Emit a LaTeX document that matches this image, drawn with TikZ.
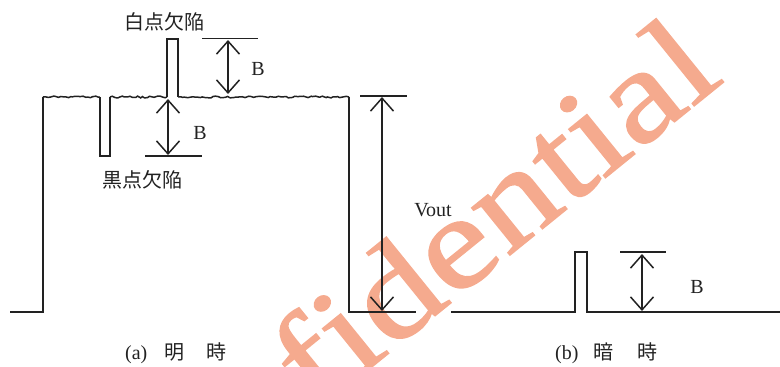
\documentclass[tikz,border=0pt]{standalone}
\usepackage{fontspec}
\setmainfont{Liberation Serif}
\newfontfamily\jpfont{Noto Sans CJK JP}
\newfontfamily\markfont[FakeStretch=1.2,FakeBold=1.2]{Liberation Serif}
\usetikzlibrary{arrows.meta,decorations.pathmorphing}
\definecolor{lineDark}{HTML}{222222}
\definecolor{markOrange}{RGB}{245,170,142}

\tikzset{
  wave/.style={line width=1.5pt, lineDark},
  noisy/.style={wave, decorate,
    decoration={random steps, segment length=2.5pt, amplitude=0.9pt}},
  limit/.style={line width=1.5pt, lineDark},
  dimarrow/.style={line width=1.5pt, lineDark,
    {Straight Barb[length=13pt,width=23pt]}-{Straight Barb[length=13pt,width=23pt]}},
  lbl/.style={font=\fontsize{20}{22}\selectfont, inner sep=0pt, text=lineDark},
  jplbl/.style={font=\jpfont\fontsize{20}{22}\selectfont, inner sep=0pt, text=lineDark},
  caption/.style={jplbl, anchor=west},
  wmark/.style={font=\markfont\fontsize{132}{132}\selectfont, text=markOrange,
    rotate=39, anchor=base east, inner sep=0pt},
}

\begin{document}
\begin{tikzpicture}[x=1pt, y=-1pt]
  \useasboundingbox (0,0) rectangle (780,367);
  \pgfmathsetseed{7}
  % watermark
  \node[wmark] (wm) at (726,80) {fidential};
  % (a) bright
  \draw[wave] (10,312) -- (43,312) -- (43,97);
  \draw[noisy] (43,97) -- (100,97);
  \draw[wave] (100,97) -- (100,156) -- (110,156) -- (110,97);
  \draw[noisy] (110,97) -- (167,97);
  \draw[wave] (167,97) -- (167,39) -- (178,39) -- (178,97);
  \draw[noisy] (178,97) -- (349,97);
  \draw[wave] (349,97) -- (349,312) -- (416,312);
  % white defect
  \node[jplbl] (white) at (164,22) {白点欠陥};
  \coordinate (wtopL) at (202,38.5);
  \coordinate (wtopR) at (258,38.5);
  \draw[limit] (wtopL) -- (wtopR);
  \coordinate (wA) at (228,40);
  \coordinate (wB) at (228,94);
  \draw[dimarrow] (wA) -- (wB);
  \node[lbl] (wlbl) at (258,69) {B};
  % black defect
  \node[jplbl] (black) at (142,180) {黒点欠陥};
  \coordinate (bbotL) at (145,156);
  \coordinate (bbotR) at (202,156);
  \draw[limit] (bbotL) -- (bbotR);
  \coordinate (bA) at (168,99);
  \coordinate (bB) at (168,155);
  \draw[dimarrow] (bA) -- (bB);
  \node[lbl] (blbl) at (200,133) {B};
  % output swing
  \coordinate (vtopL) at (360,96);
  \coordinate (vtopR) at (407,96);
  \draw[limit] (vtopL) -- (vtopR);
  \coordinate (vA) at (382,97);
  \coordinate (vB) at (382,311);
  \draw[dimarrow] (vA) -- (vB);
  \node[lbl] (vout) at (433,210) {Vout};
  \node[caption] (capa) at (125,353) {{\rmfamily(a)}\hspace{0.85em}明\hspace{1.1em}時};
  % (b) dark
  \draw[wave] (451,312) -- (575,312) -- (575,252) -- (587,252) -- (587,312) -- (780,312);
  \coordinate (dtopL) at (620,252);
  \coordinate (dtopR) at (666,252);
  \draw[limit] (dtopL) -- (dtopR);
  \coordinate (dA) at (642,254);
  \coordinate (dB) at (642,311);
  \draw[dimarrow] (dA) -- (dB);
  \node[lbl] (dlbl) at (697,287) {B};
  \node[caption] (capb) at (555,353) {{\rmfamily(b)}\hspace{0.75em}暗\hspace{1.2em}時};
\end{tikzpicture}
\end{document}
